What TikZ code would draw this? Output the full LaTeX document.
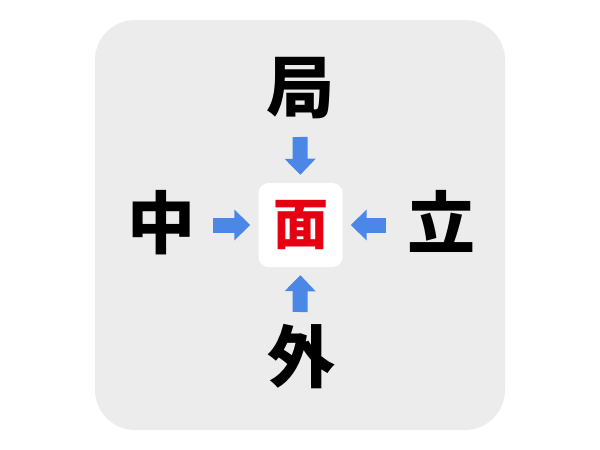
\documentclass[tikz,border=0pt]{standalone}
\usepackage{fontspec}
\newfontfamily\cjk{Noto Sans CJK JP}
\usetikzlibrary{arrows.meta}
\definecolor{panelgray}{HTML}{ECECEC}
\definecolor{arrowblue}{HTML}{4A87E6}
\definecolor{kanjired}{HTML}{E50012}
\tikzset{
    kanji/.style={font=\cjk\bfseries\fontsize{68}{68}\selectfont, inner sep=0pt},
    arr/.style={line width=15pt, color=arrowblue, -{Triangle[length=16pt,width=30pt]}, shorten >=8pt},
}
\begin{document}
\begin{tikzpicture}[x=1pt, y=-1pt]
    \useasboundingbox (0,0) rectangle (600,450);
    \fill [white] (0,0) rectangle (600,450);
    \fill [panelgray, rounded corners=40pt] (95,20) rectangle (505,430);
    % centre square
    \node [fill=white, rounded corners=10pt, minimum size=84pt, inner sep=0pt] (box) at (300.5,225) {};
    \node [kanji, text=kanjired, font=\cjk\bfseries\fontsize{55}{55}\selectfont] (men) at (box) {面};
    % the four characters
    \node [kanji] (kyoku) at (300,88) {局};
    \node [kanji] (naka) at (161,223) {中};
    \node [kanji] (tatsu) at (441,221) {立};
    \node [kanji] (soto) at (301,357) {外};
    % arrows
    \coordinate (aTop) at (300,137);
    \coordinate (aLeft) at (213,225);
    \coordinate (aRight) at (386,225);
    \coordinate (aBottom) at (300,312);
    \draw [arr] (aTop) -- (box.north);
    \draw [arr] (aLeft) -- (box.west);
    \draw [arr] (aRight) -- (box.east);
    \draw [arr] (aBottom) -- (box.south);
\end{tikzpicture}
\end{document}
